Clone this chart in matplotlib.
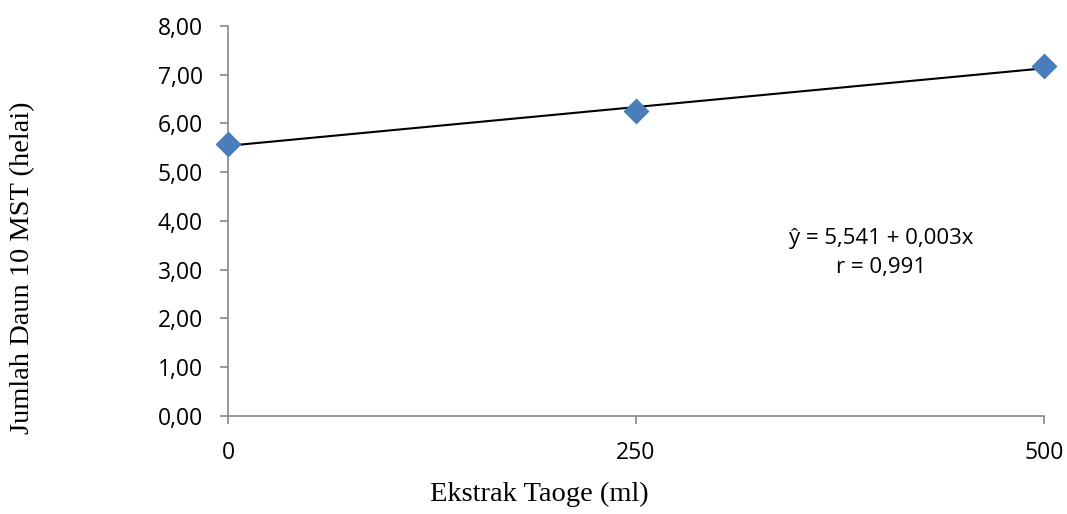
import numpy as np
import matplotlib.pyplot as plt

# data
ekstrak = [0, 250, 500]
jumlah_daun = [5.58, 6.26, 7.17]
y_ticks = [0, 1, 2, 3, 4, 5, 6, 7, 8]

slope, intercept = np.polyfit(ekstrak, jumlah_daun, 1)

fig = plt.figure(figsize=(10.67, 5.14), dpi=100)
ax = fig.add_axes([0.2137, 0.1912, 0.7647, 0.7582])

# garis tren
xs = np.array([0, 500])
ax.plot(xs, intercept + slope * xs, color='black', linewidth=1.5, zorder=2)
ax.scatter(ekstrak, jumlah_daun, marker='D', s=150, color='#4a7ebb', zorder=3, clip_on=False)

ax.set_xlim(0, 500)
ax.set_ylim(0, 8)
ax.set_xticks(ekstrak)
ax.set_yticks(y_ticks)
ax.set_yticklabels([('%.2f' % v).replace('.', ',') for v in y_ticks])

for s in ['top', 'right']:
    ax.spines[s].set_visible(False)
for s in ['left', 'bottom']:
    ax.spines[s].set_color('#888888')
    ax.spines[s].set_linewidth(1.2)
ax.tick_params(axis='both', colors='#888888', length=6, width=1.2, labelcolor='black',
               labelsize=16.5)
ax.tick_params(axis='y', pad=12)
ax.tick_params(axis='x', pad=12)
for lab in ax.get_xticklabels() + ax.get_yticklabels():
    lab.set_family('Open Sans')

ax.set_xlabel('Ekstrak Taoge (ml)', family='Liberation Serif', fontsize=20.5)
ax.xaxis.set_label_coords(0.381, -0.17)
ax.set_ylabel('Jumlah Daun 10 MST (helai)', family='Liberation Serif', fontsize=20.5)
ax.yaxis.set_label_coords(-0.236, 0.38)

ax.text(0.8, 0.417, 'ŷ = 5,541 + 0,003x\nr = 0,991', transform=ax.transAxes,
        ha='center', va='center', fontsize=16, family='Open Sans', linespacing=1.5)

plt.savefig('out.png')
